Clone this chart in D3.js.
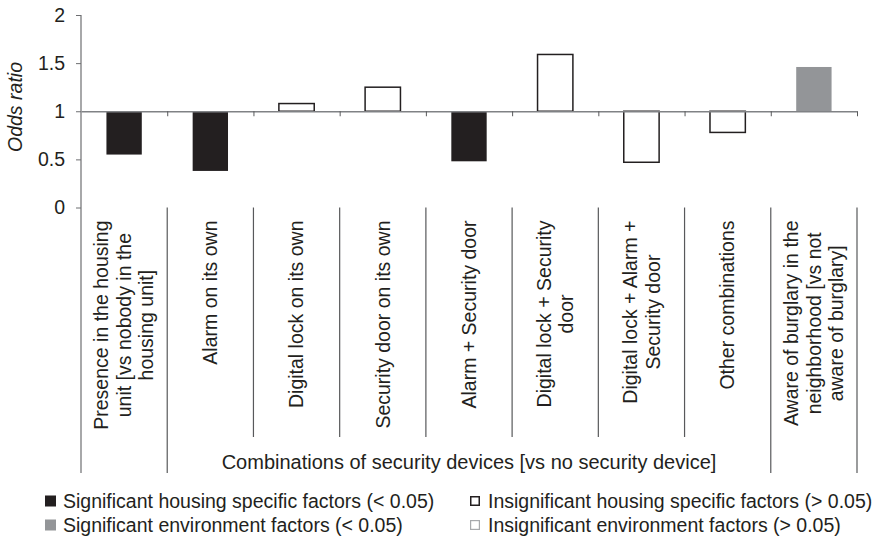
<!DOCTYPE html>
<html>
<head>
<meta charset="utf-8">
<script src="https://cdn.jsdelivr.net/npm/d3@7"></script>
<style>
  html, body { margin: 0; padding: 0; background: #fff; }
  svg { display: block; }
  text { font-family: "Liberation Sans", Arial, Helvetica, sans-serif; fill: #231f20; }
</style>
</head>
<body>
<svg id="chart" width="890" height="537"></svg>
<script>
// Category labels, one entry per line of the rotated label
const categoryLabels = [
  ["Presence in the housing", "unit [vs nobody in the", "housing unit]"],
  ["Alarm on its own"],
  ["Digital lock on its own"],
  ["Security door on its own"],
  ["Alarm + Security door"],
  ["Digital lock + Security", "door"],
  ["Digital lock + Alarm +", "Security door"],
  ["Other combinations"],
  ["Aware of burglary in the", "neighborhood [vs not", "aware of burglary]"]
];
const oddsRatios = [0.55, 0.38, 1.08, 1.25, 0.48, 1.59, 0.47, 0.78, 1.46];
const factorTypes = ["sigHousing", "sigHousing", "insigHousing", "insigHousing", "sigHousing",
                     "insigHousing", "insigHousing", "insigHousing", "sigEnv"];
const yTicks = [0, 0.5, 1, 1.5, 2];
const groupTitle = "Combinations of security devices [vs no security device]";
const yTitle = "Odds ratio";
const legendTypes = ["sigHousing", "insigHousing", "sigEnv", "insigEnv"];
const legendLabels = [
  "Significant housing specific factors (< 0.05)",
  "Insignificant housing specific factors (> 0.05)",
  "Significant environment factors (< 0.05)",
  "Insignificant environment factors (> 0.05)"
];

const styles = {
  sigHousing:   { fill: "#231f20", stroke: "none",    sw: 0 },
  insigHousing: { fill: "#ffffff", stroke: "#231f20", sw: 1.5 },
  sigEnv:       { fill: "#939598", stroke: "none",    sw: 0 },
  insigEnv:     { fill: "#ffffff", stroke: "#a7a9ac", sw: 1.2 }
};

const FONT = 19.5;
const svg = d3.select("#chart");

const left = 81, right = 857;
const n = oddsRatios.length;
const x = d3.scaleBand().domain(d3.range(n)).range([left, right]).padding(0);
const xEdge = d3.scaleLinear().domain([0, n]).range([left, right]);
const y = d3.scaleLinear().domain([0, 2]).range([207.5, 15]);
const baseline = 1;
const barW = x.bandwidth() * 0.41;

// Y axis ticks and labels
const yAxis = d3.axisLeft(y).tickValues(yTicks).tickSize(5).tickSizeOuter(0).tickPadding(11)
  .tickFormat(d3.format("~g"));
const gy = svg.append("g").attr("transform", `translate(${left},0)`).call(yAxis);
gy.select(".domain").remove();
gy.selectAll(".tick line").attr("stroke", "#6d6e71");
gy.selectAll(".tick text").style("font-size", FONT + "px").attr("fill", "#231f20");

// Y axis line runs on down through the label area
svg.append("line")
  .attr("x1", left).attr("x2", left)
  .attr("y1", y(2)).attr("y2", 473)
  .attr("stroke", "#6d6e71").attr("stroke-width", 1.2);

// Category separators below the plot
const tallEdges = new Set([0, 1, 8, 9]);
svg.append("g").selectAll("line")
  .data(d3.range(1, n + 1))
  .join("line")
  .attr("x1", k => xEdge(k)).attr("x2", k => xEdge(k))
  .attr("y1", y(0)).attr("y2", k => tallEdges.has(k) ? 473 : 437)
  .attr("stroke", "#58595b").attr("stroke-width", 1.2);

// Bars measured from the odds-ratio reference line at 1
svg.append("g").selectAll("rect")
  .data(oddsRatios)
  .join("rect")
  .attr("x", (d, i) => x(i) + (x.bandwidth() - barW) / 2)
  .attr("width", barW)
  .attr("y", d => y(Math.max(d, baseline)))
  .attr("height", d => Math.abs(y(d) - y(baseline)))
  .attr("fill", (d, i) => styles[factorTypes[i]].fill)
  .attr("stroke", (d, i) => styles[factorTypes[i]].stroke)
  .attr("stroke-width", (d, i) => styles[factorTypes[i]].sw);

// Reference axis at odds ratio 1 with ticks on category boundaries
const xAxis = d3.axisBottom(xEdge).tickValues(d3.range(1, n + 1)).tickSize(5)
  .tickSizeOuter(0).tickFormat("");
const gx = svg.append("g").attr("transform", `translate(0,${y(baseline)})`).call(xAxis);
gx.select(".domain").attr("stroke", "#808285").attr("stroke-width", 1.3);
gx.selectAll(".tick line").attr("stroke", "#58595b");

// Y axis title
svg.append("text")
  .attr("transform", `translate(22,107) rotate(-90)`)
  .attr("text-anchor", "middle")
  .style("font-size", FONT + "px")
  .style("font-style", "italic")
  .text(yTitle);

// Rotated category labels, top-aligned and centred line by line
const labelTop = 220.5;
const lineH = 22.5;
categoryLabels.forEach((lines, i) => {
  const g = svg.append("g");
  const cx = x(i) + x.bandwidth() / 2;
  const texts = lines.map((line, j) =>
    g.append("text")
      .attr("text-anchor", "middle")
      .attr("x", 0)
      .attr("y", (j - (lines.length - 1) / 2) * lineH)
      .attr("dy", "0.35em")
      .style("font-size", FONT + "px")
      .text(line)
  );
  const maxLen = d3.max(texts, t => t.node().getComputedTextLength());
  g.attr("transform", `translate(${cx},${labelTop + maxLen / 2}) rotate(-90)`);
});

// Group title under the device combinations
svg.append("text")
  .attr("x", (xEdge(1) + xEdge(8)) / 2)
  .attr("y", 468.5)
  .attr("text-anchor", "middle")
  .style("font-size", "20px")
  .text(groupTitle);

// Legend, two columns by two rows
const legendCols = [45, 470];
const legendRows = [501, 525];
const legend = svg.append("g");
legendTypes.forEach((t, i) => {
  const col = i % 2, row = Math.floor(i / 2);
  const s = styles[t];
  const size = col === 0 ? 11 : 10;
  legend.append("rect")
    .attr("x", legendCols[col] + (s.sw ? s.sw / 2 : 0))
    .attr("y", legendRows[row] - size / 2 + (s.sw ? s.sw / 2 : 0))
    .attr("width", size - (s.sw || 0))
    .attr("height", size - (s.sw || 0))
    .attr("fill", s.fill)
    .attr("stroke", s.stroke)
    .attr("stroke-width", s.sw);
  legend.append("text")
    .attr("x", legendCols[col] + 18)
    .attr("y", legendRows[row])
    .attr("dy", "0.36em")
    .style("font-size", FONT + "px")
    .text(legendLabels[i]);
});
</script>
</body>
</html>
